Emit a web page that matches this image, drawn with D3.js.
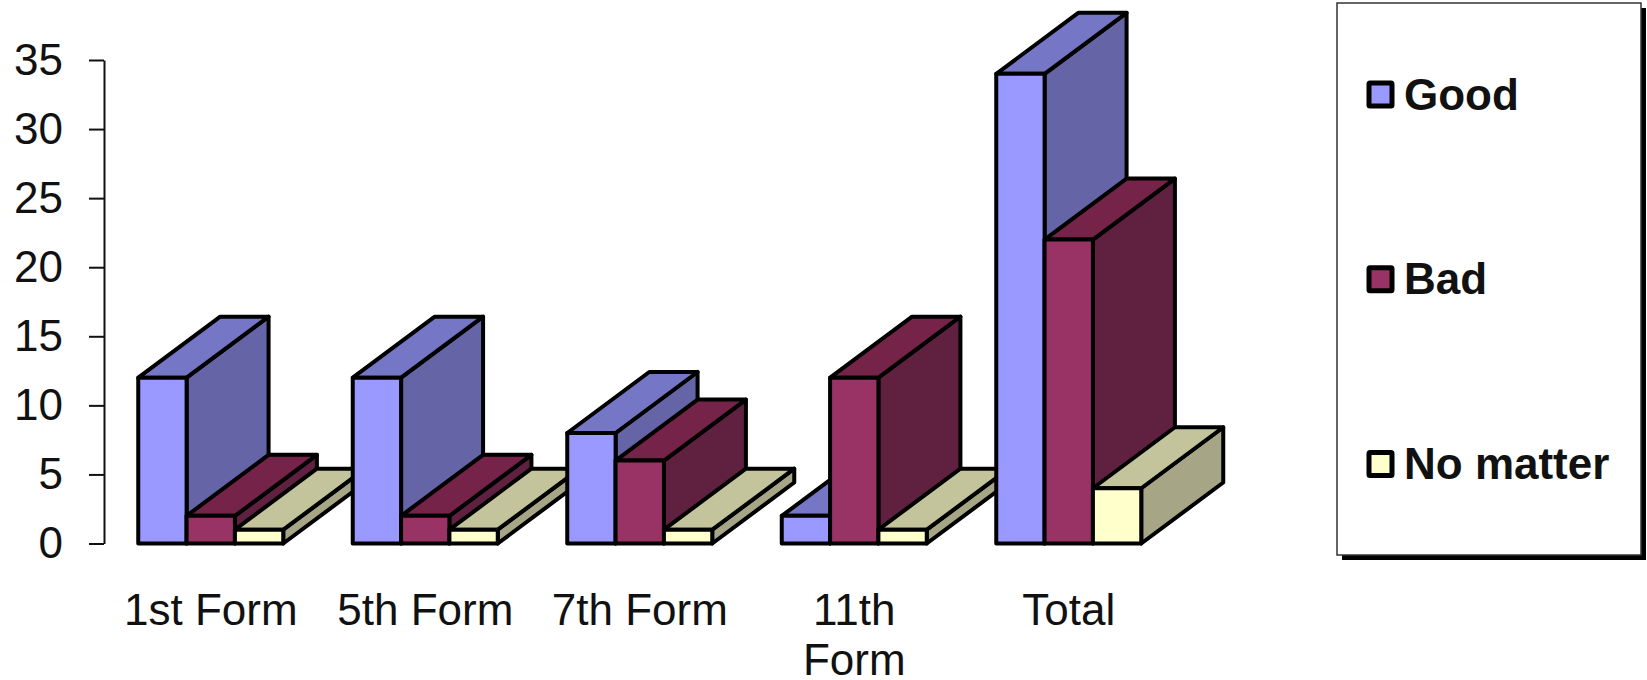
<!DOCTYPE html>
<html>
<head>
<meta charset="utf-8">
<script src="https://cdn.jsdelivr.net/npm/d3@7"></script>
<style>
  html, body { margin: 0; padding: 0; background: #fff; }
  svg { display: block; }
  text { font-family: "Liberation Sans", Arial, sans-serif; fill: #111; }
</style>
</head>
<body>
<div id="chart"></div>
<script>
const categories = ["1st Form", "5th Form", "7th Form", "11th Form", "Total"]
const seriesNames = ["Good", "Bad", "No matter"]
const good = [12, 12, 8, 2, 34]
const bad = [2, 2, 6, 12, 22]
const noMatter = [1, 1, 1, 1, 4]
const yTicks = [0, 5, 10, 15, 20, 25, 30, 35]

const WIDTH = 1647
const HEIGHT = 680
const DEPTH_X = 82
const DEPTH_Y = 61

const frontColors = ["#9999ff", "#993366", "#ffffcc"]
const sideColors = ["#6464a6", "#60203f", "#a6a686"]
const topColors = ["#7676c6", "#752349", "#c4c49c"]

const svg = d3.select("#chart").append("svg")
    .attr("width", WIDTH)
    .attr("height", HEIGHT)

const x = d3.scaleBand()
    .domain(categories)
    .range([103.5, 1176])
    .paddingInner(0.324)
    .paddingOuter(0.162)

const xSeries = d3.scaleBand()
    .domain(seriesNames)
    .range([0, x.bandwidth()])

const y = d3.scaleLinear()
    .domain([0, 35])
    .range([543.5, 60])

// Y axis
const yAxis = svg.append("g")
    .attr("transform", "translate(104, 0)")
    .call(d3.axisLeft(y).tickValues(yTicks).tickSize(15).tickSizeOuter(0).tickPadding(26))
yAxis.selectAll("path, line").attr("stroke", "#111").attr("stroke-width", 2)
yAxis.selectAll("text").attr("font-size", 44).attr("font-family", "Liberation Sans").attr("fill", "#111")

// X labels, the long one wraps
const xAxis = svg.append("g")
    .attr("transform", "translate(0, 543.5)")
    .call(d3.axisBottom(x).tickSize(0))
xAxis.select(".domain").remove()
xAxis.selectAll("text")
    .attr("font-size", 44)
    .attr("font-family", "Liberation Sans")
    .attr("fill", "#111")
    .attr("y", 67)
    .attr("dy", "0.32em")
    .each(function (d) {
        if (d !== "11th Form") return
        const t = d3.select(this).text(null)
        t.append("tspan").attr("x", 0).text("11th")
        t.append("tspan").attr("x", 0).attr("dy", 50).text("Form")
    })

// 3D bars
const values = [good, bad, noMatter]
const bars = svg.append("g")
    .attr("stroke", "#000")
    .attr("stroke-width", 4)
    .attr("stroke-linejoin", "round")

categories.forEach((cat, i) => {
    seriesNames.forEach((name, s) => {
        const left = x(cat) + xSeries(name)
        const right = left + xSeries.bandwidth()
        const top = y(values[s][i])
        const base = y(0)
        const g = bars.append("g")

        g.append("polygon")
            .attr("fill", sideColors[s])
            .attr("points", [[right, top], [right + DEPTH_X, top - DEPTH_Y], [right + DEPTH_X, base - DEPTH_Y], [right, base]].join(" "))
        g.append("polygon")
            .attr("fill", topColors[s])
            .attr("points", [[left, top], [left + DEPTH_X, top - DEPTH_Y], [right + DEPTH_X, top - DEPTH_Y], [right, top]].join(" "))
        g.append("rect")
            .attr("x", left)
            .attr("y", top)
            .attr("width", right - left)
            .attr("height", base - top)
            .attr("fill", frontColors[s])
    })
})

// Legend
svg.append("rect")
    .attr("x", 1342).attr("y", 8)
    .attr("width", 304).attr("height", 552)
    .attr("fill", "#000")
svg.append("rect")
    .attr("x", 1337).attr("y", 3)
    .attr("width", 304).attr("height", 552)
    .attr("fill", "#fff")
    .attr("stroke", "#333")
    .attr("stroke-width", 1.5)

const legendY = d3.scalePoint()
    .domain(seriesNames)
    .range([94.5, 464])

const legend = svg.selectAll(".legend-item")
    .data(seriesNames)
    .enter().append("g")
    .attr("class", "legend-item")
    .attr("transform", d => `translate(1367, ${legendY(d)})`)

legend.append("rect")
    .attr("x", 2).attr("y", -11.5)
    .attr("width", 23).attr("height", 23)
    .attr("rx", 1)
    .attr("fill", (d, i) => frontColors[i])
    .attr("stroke", "#000")
    .attr("stroke-width", 5)

legend.append("text")
    .attr("x", 37)
    .attr("y", 15)
    .attr("font-size", 44)
    .attr("font-weight", "bold")
    .attr("fill", "#000")
    .text(d => d)
</script>
</body>
</html>
